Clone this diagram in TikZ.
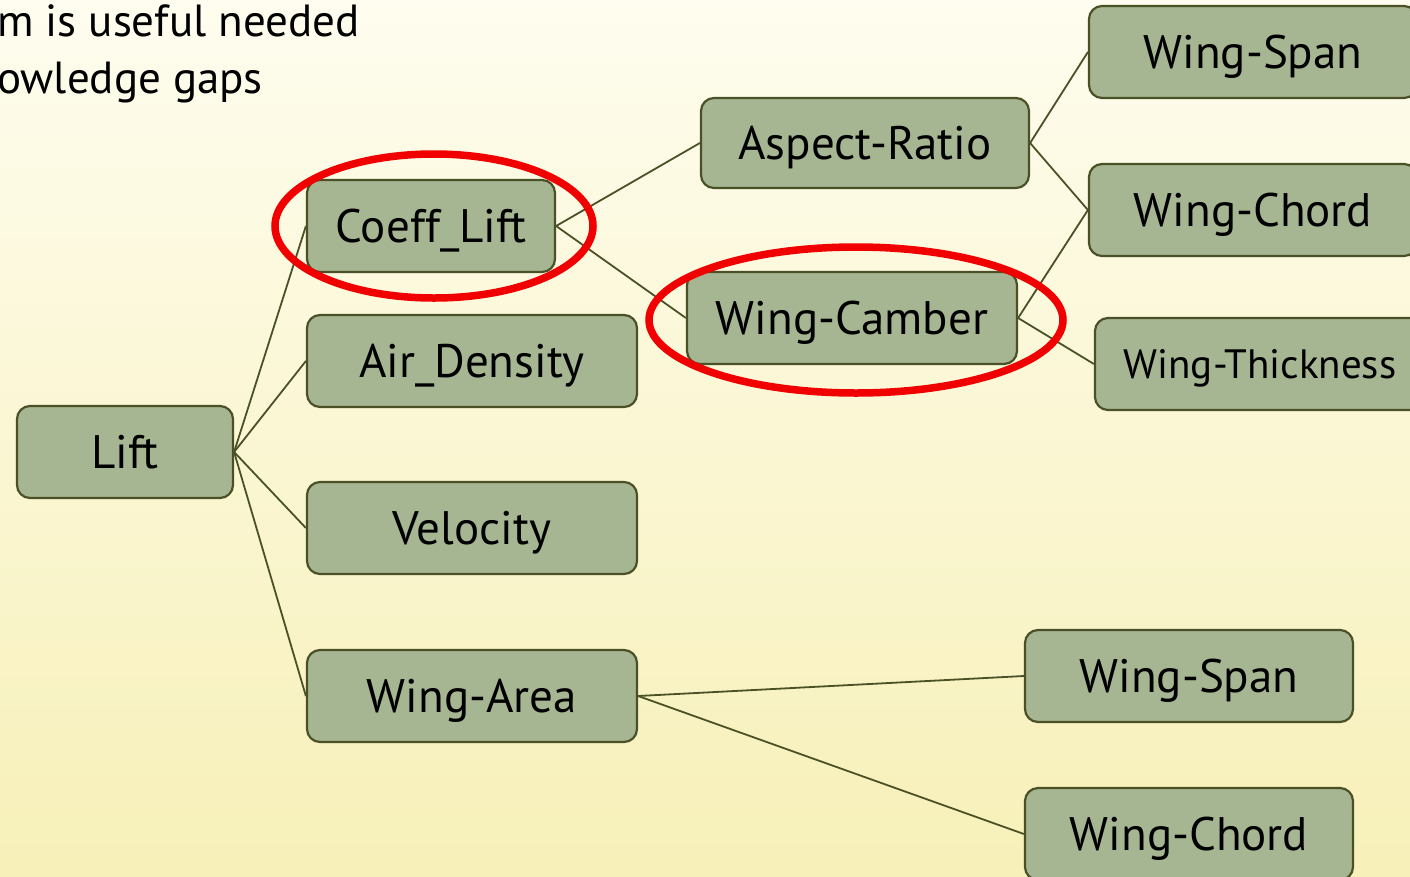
\documentclass[tikz,border=0pt]{standalone}
\usepackage{fontspec}
\setmainfont{PT Sans}
\usetikzlibrary{shapes.geometric}
\definecolor{bgtop}{HTML}{FEFDEF}
\definecolor{bgbot}{HTML}{F7F0B8}
\definecolor{boxfill}{HTML}{A6B592}
\definecolor{boxline}{HTML}{4B5127}
\definecolor{ringred}{HTML}{F00000}
\tikzset{
  tbox/.style={draw=boxline, fill=boxfill, line width=2.2pt, rounded corners=13pt,
    minimum width=328pt, minimum height=92pt, inner sep=0pt,
    text height=36pt, text depth=4pt,
    font=\fontsize{47}{54}\selectfont, text=black},
  link/.style={draw=boxline, line width=1.8pt},
  ring/.style={draw=ringred, line width=7.5pt},
  toptext/.style={anchor=base west, inner sep=0pt, font=\fontsize{45}{50}\selectfont}
}
\begin{document}
\begin{tikzpicture}[x=1pt,y=-1pt]
\useasboundingbox (0,0) rectangle (1410,876);
\clip (0,0) rectangle (1410,876);
\shade[top color=bgtop, bottom color=bgbot] (0,0) rectangle (1410,876);
\node[toptext] (t1) at (-3,36) {m is useful needed};
\node[toptext] (t2) at (-3,93) {owledge gaps};

\node[tbox, minimum width=216pt] (lift) at (125,452) {Lift};
\node[tbox, minimum width=248pt] (coeff) at (431,226) {Coeff\_Lift};
\node[tbox, minimum width=330pt] (air) at (472,361) {Air\_Density};
\node[tbox, minimum width=330pt] (vel) at (472,528) {Velocity};
\node[tbox, minimum width=330pt] (area) at (472,696) {Wing-Area};
\node[tbox, minimum width=328pt, minimum height=90pt] (aspect) at (865,143) {Aspect-Ratio};
\node[tbox, minimum width=330pt] (camber) at (852,318) {Wing-Camber};
\node[tbox] (span1) at (1253,52) {Wing-Span};
\node[tbox] (chord1) at (1253,210) {Wing-Chord};
\node[tbox, minimum width=330pt, text height=32pt, text depth=4pt, font=\fontsize{41}{47}\selectfont] (thick) at (1260,364) {Wing-Thickness};
\node[tbox] (span2) at (1189,676) {Wing-Span};
\node[tbox] (chord2) at (1189,834) {Wing-Chord};

\draw[link] (lift.east) -- (coeff.west);
\draw[link] (lift.east) -- (air.west);
\draw[link] (lift.east) -- (vel.west);
\draw[link] (lift.east) -- (area.west);
\draw[link] (coeff.east) -- (aspect.west);
\draw[link] (coeff.east) -- (camber.west);
\draw[link] (aspect.east) -- (span1.west);
\draw[link] (aspect.east) -- (chord1.west);
\draw[link] (camber.east) -- (chord1.west);
\draw[link] (camber.east) -- (thick.west);
\draw[link] (area.east) -- (span2.west);
\draw[link] (area.east) -- (chord2.west);

\node[ring, ellipse, minimum width=318pt, minimum height=144pt, inner sep=0pt] (ring1) at (434,226) {};
\node[ring, ellipse, minimum width=414pt, minimum height=146pt, inner sep=0pt] (ring2) at (856,320) {};
\end{tikzpicture}
\end{document}
